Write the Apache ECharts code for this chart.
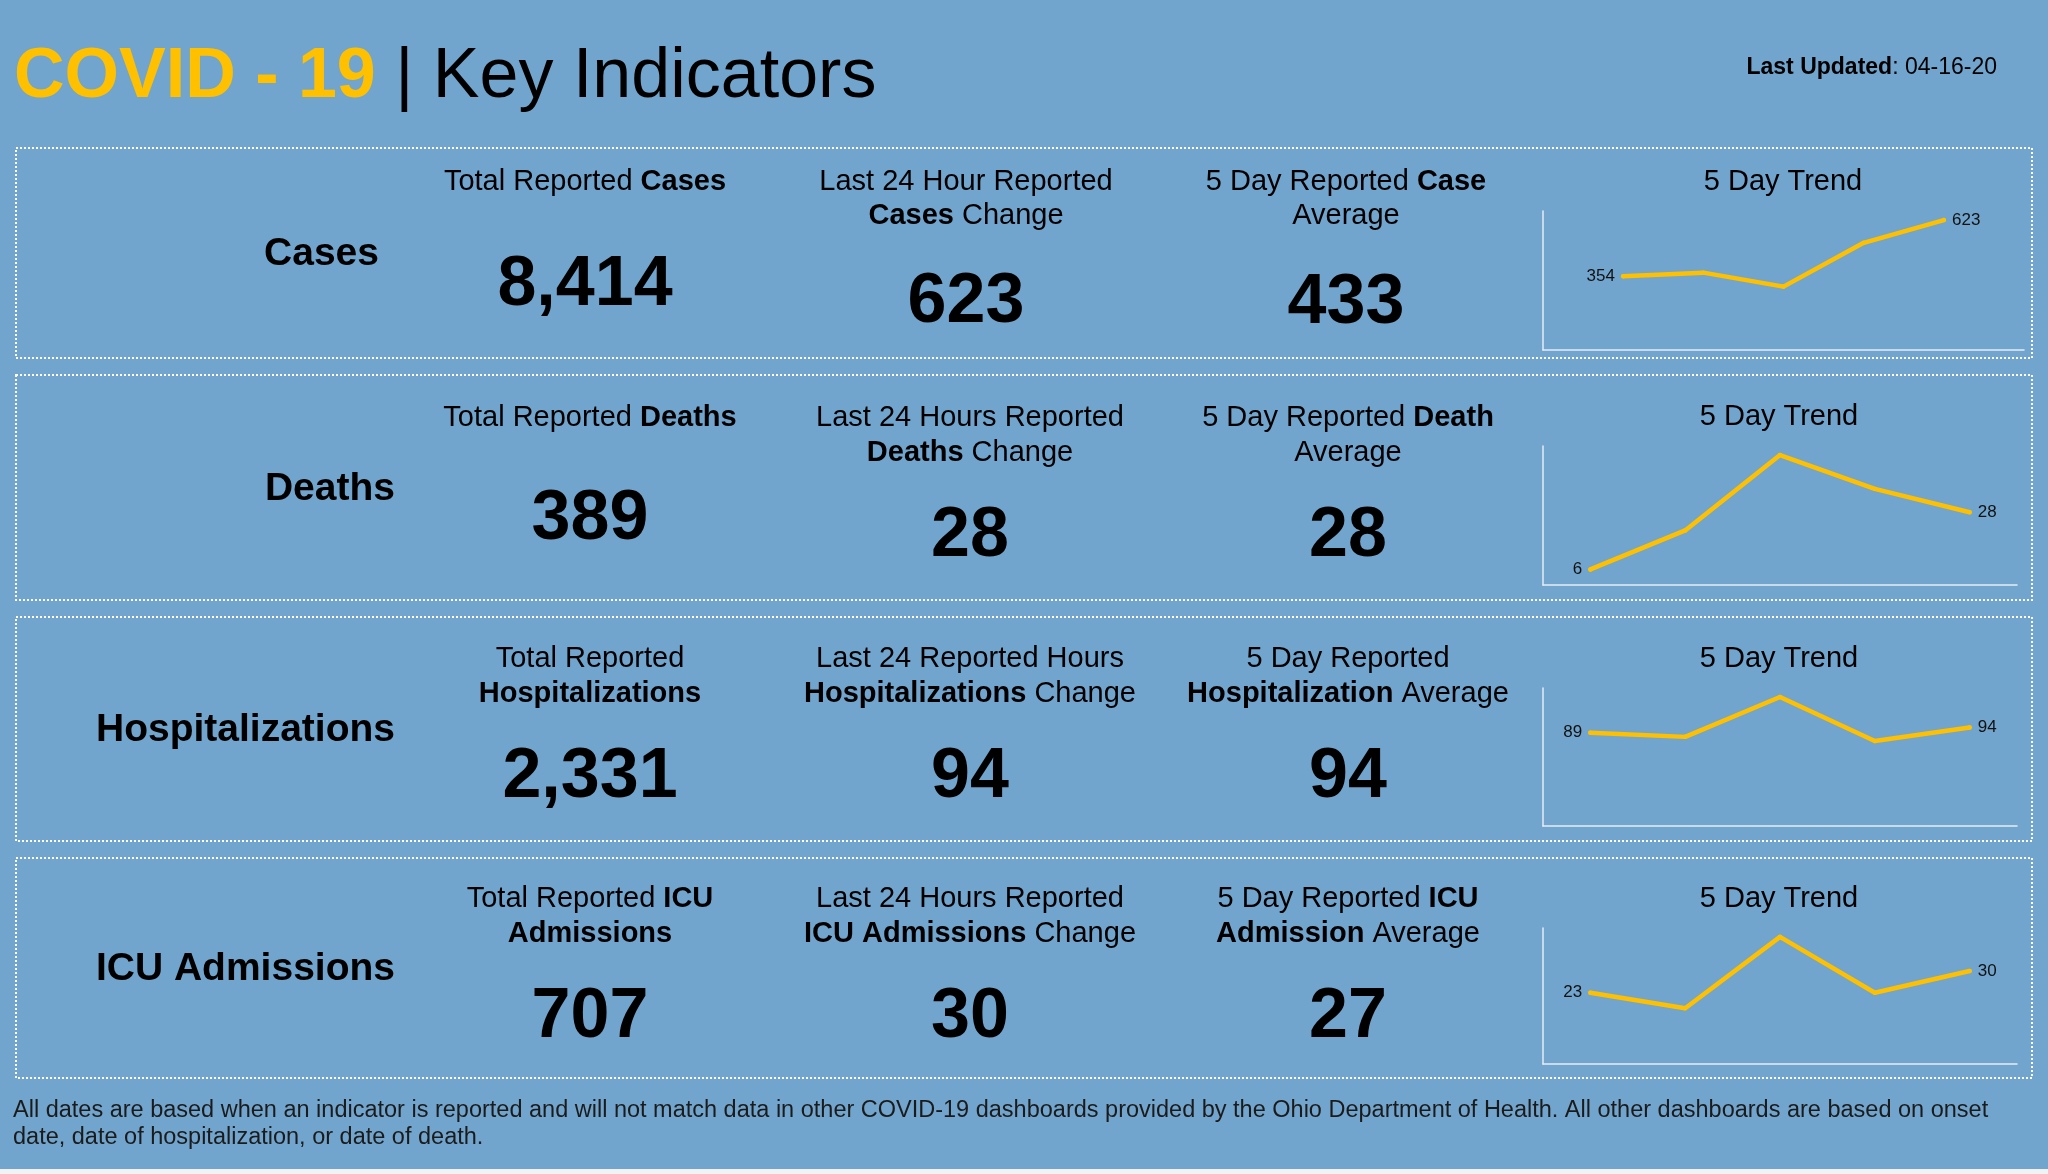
<!DOCTYPE html>
<html><head><meta charset="utf-8">
<script src="https://cdn.jsdelivr.net/npm/echarts@6/dist/echarts.min.js"></script>
<style>html,body{margin:0;padding:0;background:#72a5cd;overflow:hidden}#c{width:2048px;height:1174px}</style>
</head><body><div id="c"></div>
<script>
// ---------- data ----------
const rowNames = ['Cases', 'Deaths', 'Hospitalizations', 'ICU Admissions'];
const totals = [8414, 389, 2331, 707];
const changes24h = [623, 28, 94, 30];
const averages5d = [433, 28, 94, 27];
const trendDays = ['Day 1', 'Day 2', 'Day 3', 'Day 4', 'Day 5'];
const trendCases = [354, 371, 304, 514, 623];
const trendDeaths = [6, 21, 50, 37, 28];
const trendHosp = [89, 85, 123, 81, 94];
const trendICU = [23, 18, 41, 23, 30];
const trends = [trendCases, trendDeaths, trendHosp, trendICU];
const headers = [
  [['Total Reported {b|Cases}'], ['Last 24 Hour Reported', '{b|Cases} Change'], ['5 Day Reported {b|Case}', 'Average']],
  [['Total Reported {b|Deaths}'], ['Last 24 Hours Reported', '{b|Deaths} Change'], ['5 Day Reported {b|Death}', 'Average']],
  [['Total Reported', '{b|Hospitalizations}'], ['Last 24 Reported Hours', '{b|Hospitalizations} Change'], ['5 Day Reported', '{b|Hospitalization} Average']],
  [['Total Reported {b|ICU}', '{b|Admissions}'], ['Last 24 Hours Reported', '{b|ICU Admissions} Change'], ['5 Day Reported {b|ICU}', '{b|Admission} Average']]
];
const trendTitle = '5 Day Trend';
const titleMain = '{y|COVID - 19} | Key Indicators';
const updatedText = '{b|Last Updated}: 04-16-20';
const footLines = [
  'All dates are based when an indicator is reported and will not match data in other COVID-19 dashboards provided by the Ohio Department of Health. All other dashboards are based on onset',
  'date, date of hospitalization, or date of death.'
];

// ---------- layout ----------
const FF = '"Liberation Sans", Arial, Helvetica, sans-serif';
const YEL = '#FFC000';
const layout = [
  {box: [148, 358], label: [379, 252], head: [179.6, 213.6], nums: [280.5, 297.5, 299], cols: [585, 966, 1346], tt: [1783, 179.6], grid: {top: 211, height: 139, width: 481}, xpad: 1},
  {box: [375, 600], label: [395, 487], head: [415.6, 450.6], nums: [514.5, 532, 532], cols: [590, 970, 1348], tt: [1779, 415], grid: {top: 446, height: 139, width: 474}, xpad: 0.5},
  {box: [617, 841], label: [395, 728], head: [656.6, 691.6], nums: [773, 773, 773], cols: [590, 970, 1348], tt: [1779, 656.6], grid: {top: 688, height: 138, width: 474}, xpad: 0.5},
  {box: [858, 1078], label: [395, 967], head: [896.6, 931.6], nums: [1013, 1013, 1013], cols: [590, 970, 1348], tt: [1779, 897], grid: {top: 928, height: 136, width: 474}, xpad: 0.5}
];

function txt(x, y, text, size, align, weight, color) {
  return {
    type: 'text', x: x, y: y + 0.07 * size, silent: true, z: 10,
    style: {
      text: text, fontSize: size, fontFamily: FF, fontWeight: weight || 'normal',
      fill: color || '#000', align: align || 'center', verticalAlign: 'middle',
      rich: {
        b: {fontSize: size, fontFamily: FF, fontWeight: 'bold', fill: color || '#000'},
        y: {fontSize: size, fontFamily: FF, fontWeight: 'bold', fill: YEL}
      }
    }
  };
}

const graphics = [];
graphics.push({type: 'rect', silent: true, shape: {x: 0, y: 1169, width: 2048, height: 5}, style: {fill: '#f2f2f2'}});
graphics.push(txt(14, 73, titleMain, 70, 'left', 'normal', '#000'));
graphics.push(txt(1997, 66, updatedText, 23, 'right', 'normal', '#000'));
footLines.forEach((l, i) => graphics.push(txt(13, 1109 + i * 27, l, 23.5, 'left', 'normal', '#1b1b1b')));

const grids = [], xAxes = [], yAxes = [], series = [];
const fmt = v => v.toLocaleString('en-US');

layout.forEach((L, r) => {
  graphics.push({type: 'rect', silent: true, z: 5,
    shape: {x: 16, y: L.box[0], width: 2016, height: L.box[1] - L.box[0]},
    style: {fill: 'none', stroke: '#ffffff', lineWidth: 2, lineDash: [2, 2]}});
  graphics.push(txt(L.label[0], L.label[1], rowNames[r], 39, 'right', 'bold'));
  headers[r].forEach((lines, c) => {
    lines.forEach((ln, k) => graphics.push(txt(L.cols[c], L.head[k], ln, 29, 'center')));
  });
  const nums = [totals[r], changes24h[r], averages5d[r]];
  nums.forEach((n, c) => graphics.push(txt(L.cols[c], L.nums[c], fmt(n), 70, 'center', 'bold')));
  graphics.push(txt(L.tt[0], L.tt[1], trendTitle, 29, 'center'));

  grids.push({left: 1543, top: L.grid.top, width: L.grid.width, height: L.grid.height, containLabel: false});
  const axisLine = {show: true, onZero: false, lineStyle: {color: '#e6edf3', width: 1.5}};
  xAxes.push({type: 'value', gridIndex: r, min: -L.xpad, max: trendDays.length - 1 + L.xpad,
    axisLine: axisLine, axisTick: {show: false}, axisLabel: {show: false}, splitLine: {show: false}});
  yAxes.push({type: 'value', gridIndex: r, min: 0, max: v => v.max * 1.07,
    axisLine: axisLine, axisTick: {show: false}, axisLabel: {show: false}, splitLine: {show: false}});
  const d = trends[r];
  series.push({
    type: 'line', xAxisIndex: r, yAxisIndex: r, silent: true,
    symbol: 'circle', symbolSize: 4.5, showSymbol: true,
    itemStyle: {color: YEL},
    lineStyle: {color: YEL, width: 4.5, cap: 'round', join: 'round'},
    label: {show: false},
    data: d.map((v, i) => ({
      value: [i, v], name: trendDays[i],
      label: {show: i === 0 || i === d.length - 1, position: i === 0 ? 'left' : 'right', distance: 6,
        formatter: p => String(p.value[1]), color: '#111', fontSize: 17, fontFamily: FF}
    }))
  });
});

const chart = echarts.init(document.getElementById('c'));
chart.setOption({
  animation: false,
  backgroundColor: '#72a5cd',
  grid: grids, xAxis: xAxes, yAxis: yAxes, series: series,
  graphic: graphics
});
</script>
</body></html>
